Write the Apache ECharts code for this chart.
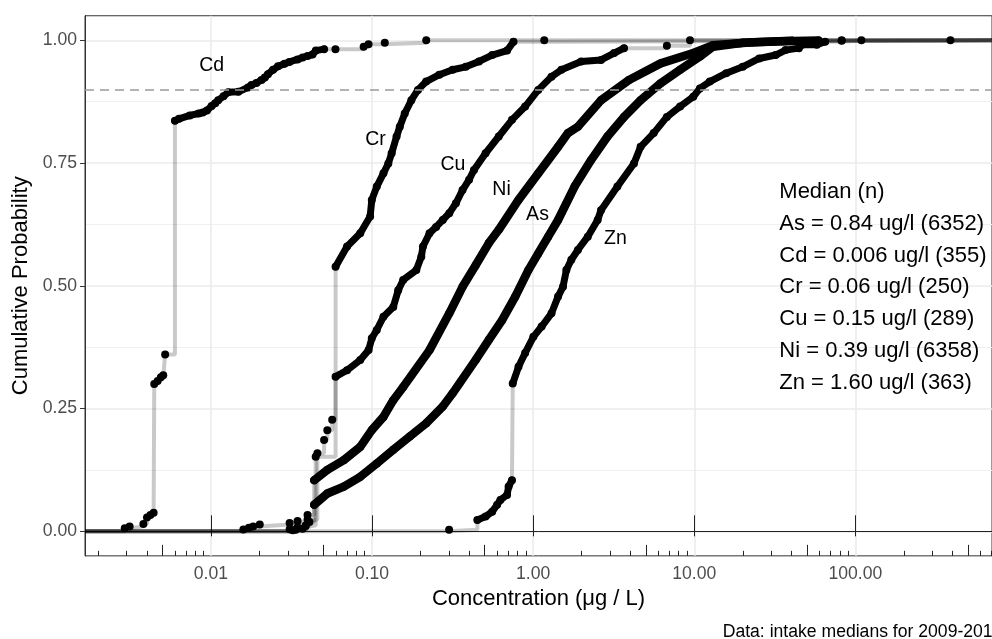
<!DOCTYPE html>
<html><head><meta charset="utf-8">
<script src="https://cdn.jsdelivr.net/npm/echarts@6/dist/echarts.min.js"></script>
<style>html,body{margin:0;padding:0;background:#fff}#c{width:992px;height:639px}</style>
</head><body><div id="c"></div>
<script>
// ---------------- data (concentration ug/L, cumulative probability) ----------------
const xTickLabels = [0.01, 0.1, 1, 10, 100];
const yTickLabels = [0, 0.25, 0.5, 0.75, 1];
const yMinorGrid = [0.125, 0.375, 0.625, 0.875];
const refLevel = 0.9;
const curveNames = ['Cd', 'Cr', 'Cu', 'Ni', 'As', 'Zn'];
const medianTitle = 'Median (n)';
const medianLines = ['As = 0.84 ug/l (6352)', 'Cd = 0.006 ug/l (355)', 'Cr = 0.06 ug/l (250)',
  'Cu = 0.15 ug/l (289)', 'Ni = 0.39 ug/l (6358)', 'Zn = 1.60 ug/l (363)'];
const caption = 'Data: intake medians for 2009-201';

const cdPts = [[0.00292,0.006],[0.00313,0.010],[0.00381,0.015],[0.00401,0.028],[0.00421,0.033],[0.00441,0.038],
  [0.00445,0.300],[0.00467,0.306],[0.00489,0.314],[0.00506,0.318],[0.0052,0.360],[0.00598,0.836],[0.00634,0.840],
  [0.0074,0.847],[0.0084,0.851],[0.0089,0.853],[0.00945,0.857],[0.0101,0.866],[0.01064,0.872],[0.0111,0.878],
  [0.01197,0.886],[0.0128,0.894],[0.0148,0.895],[0.0170,0.904],[0.01786,0.909],[0.01916,0.913],[0.0206,0.919],
  [0.0216,0.924],[0.0226,0.931],[0.0243,0.940],[0.0261,0.947],[0.0286,0.952],[0.0307,0.956],[0.0345,0.961],
  [0.0371,0.965],[0.0398,0.968],[0.0427,0.971],[0.0448,0.979],[0.0504,0.982],[0.0593,0.982],[0.0887,0.987],
  [0.0951,0.992],[0.120,0.995],[0.217,1.0]];
const crPts = [[0.0308,0.004],[0.0345,0.008],[0.0387,0.012],[0.0447,0.152],[0.0594,0.539],[0.0700,0.580],
  [0.0845,0.607],[0.0973,0.641],[0.0997,0.675],[0.107,0.702],[0.1177,0.729],[0.1262,0.749],[0.1324,0.770],
  [0.142,0.804],[0.1487,0.824],[0.1596,0.851],[0.1754,0.878],[0.1928,0.899],[0.2168,0.916],[0.2617,0.930],
  [0.3163,0.940],[0.3817,0.946],[0.4611,0.957],[0.557,0.970],[0.689,0.979],[0.755,0.997],[1.172,1.0]];
const cuPts = [[0.0159,0.0035],[0.0172,0.007],[0.0183,0.010],[0.0201,0.014],[0.0308,0.017],[0.0345,0.021],
  [0.0398,0.024],[0.0458,0.159],[0.0504,0.186],[0.0528,0.206],[0.0566,0.227],[0.0594,0.315],[0.0700,0.328],
  [0.0845,0.349],[0.0952,0.369],[0.0997,0.393],[0.107,0.410],[0.1177,0.437],[0.1355,0.457],[0.1454,0.491],
  [0.1561,0.512],[0.1884,0.532],[0.2022,0.559],[0.2071,0.580],[0.2274,0.607],[0.2499,0.620],[0.2748,0.634],
  [0.3017,0.648],[0.3316,0.668],[0.3646,0.695],[0.4002,0.716],[0.4295,0.736],[0.5067,0.770],[0.6115,0.804],
  [0.7389,0.838],[0.8919,0.865],[1.076,0.899],[1.300,0.926],[1.498,0.940],[1.988,0.957],[2.638,0.960],
  [3.183,0.974],[3.665,0.984],[6.761,0.989],[9.41,1.0]];
const niPts = [[0.0336,0.003],[0.0387,0.011],[0.0409,0.019],[0.04375,0.104],[0.0528,0.125],[0.0668,0.145],
  [0.0845,0.172],[0.0996,0.206],[0.1177,0.233],[0.1355,0.267],[0.1561,0.294],[0.2274,0.369],[0.3017,0.444],
  [0.3646,0.498],[0.4398,0.542],[0.5309,0.587],[0.6115,0.614],[0.8113,0.675],[1.076,0.729],[1.428,0.783],
  [1.645,0.811],[1.895,0.824],[2.638,0.878],[3.934,0.919],[6.185,0.953],[9.86,0.974],[13.08,0.990],
  [23.0,0.996],[40.5,0.999],[389,1.0]];
const asPts = [[0.0322,0.002],[0.0371,0.005],[0.0398,0.033],[0.04375,0.054],[0.0528,0.077],[0.0668,0.091],
  [0.0845,0.111],[0.1070,0.138],[0.1355,0.166],[0.1714,0.193],[0.2169,0.220],[0.2748,0.254],[0.3164,0.281],
  [0.4398,0.349],[0.5309,0.390],[0.6418,0.430],[0.7745,0.478],[0.9344,0.532],[1.076,0.566],[1.240,0.600],
  [1.428,0.634],[1.808,0.702],[2.289,0.756],[2.894,0.804],[3.665,0.844],[4.643,0.878],[6.158,0.912],
  [8.17,0.940],[10.84,0.967],[13.08,0.987],[20.0,0.995],[35.2,0.998],[59.1,0.9995],[82.2,1.0]];
const znPts = [[0.301,0.003],[0.4506,0.023],[0.5067,0.030],[0.5569,0.040],[0.5977,0.054],[0.6263,0.064],
  [0.6887,0.074],[0.7044,0.091],[0.7389,0.104],[0.7471,0.301],[0.8112,0.335],[0.8919,0.363],[1.003,0.396],
  [1.129,0.417],[1.300,0.444],[1.428,0.478],[1.532,0.498],[1.608,0.532],[1.726,0.553],[1.895,0.573],
  [2.183,0.600],[2.514,0.634],[2.638,0.654],[3.334,0.702],[4.223,0.749],[4.643,0.783],[5.601,0.811],
  [6.761,0.844],[8.17,0.865],[9.86,0.885],[10.84,0.902],[12.49,0.916],[15.79,0.933],[19.99,0.946],
  [25.31,0.963],[32.0,0.970],[36.87,0.980],[44.6,0.984],[46.7,0.991],[57.7,0.991],[64.9,0.997],
  [82.2,0.999],[109,1.0]];

// index ranges [start, end) of the densely packed runs of points in each series
const cdRuns = [[11, 39]];
const crRuns = [[4, 26]];
const cuRuns = [[11, 43]];
const niRuns = [[3, 29]];
const asRuns = [[3, 33]];
const znRuns = [[1, 9], [9, 41]];

// ---------------- chart ----------------
const FONT = '"Liberation Sans", Arial, sans-serif';
const X_MIN = Math.pow(10, -2.7815);
const X_MAX = Math.pow(10, 2.848);
const allSets = [
  {pts: cdPts, runs: cdRuns, w: 7}, {pts: crPts, runs: crRuns, w: 7}, {pts: cuPts, runs: cuRuns, w: 7},
  {pts: niPts, runs: niRuns, w: 8.5}, {pts: asPts, runs: asRuns, w: 8.5}, {pts: znPts, runs: znRuns, w: 7}];

// ECDF path: steps between separated values, direct joins inside densely packed runs
function ecdfPath(pts, runs) {
  const inRun = i => runs.some(r => i >= r[0] && i + 1 < r[1]);
  const out = [[X_MIN, 0], [pts[0][0], 0]];
  for (let i = 0; i < pts.length; i++) {
    out.push(pts[i]);
    if (i + 1 < pts.length && !inRun(i)) out.push([pts[i + 1][0], pts[i][1]]);
  }
  out.push([X_MAX, pts[pts.length - 1][1]]);
  return out;
}

const series = [];
allSets.forEach(s => {
  series.push({
    type: 'line', showSymbol: false, silent: true, z: 1,
    data: ecdfPath(s.pts, s.runs),
    lineStyle: {color: 'rgba(0,0,0,0.21)', width: 4}
  });
});
allSets.forEach(s => {
  s.runs.forEach(r => {
    series.push({
      type: 'line', showSymbol: false, silent: true, z: 2,
      data: s.pts.slice(r[0], r[1]),
      lineStyle: {color: '#000', width: s.w, cap: 'round', join: 'round', opacity: 1}
    });
  });
});
allSets.forEach((s, i) => {
  const ser = {
    type: 'scatter', symbol: 'circle', symbolSize: 8, silent: true, z: 3,
    itemStyle: {color: '#000', opacity: 1}, data: s.pts
  };
  if (i === 0) {
    ser.markLine = {
      silent: true, symbol: 'none', label: {show: false},
      lineStyle: {color: '#9a9a9a', type: [9, 6], width: 1.5},
      data: [{yAxis: refLevel}]
    };
  }
  series.push(ser);
});

const minorTicks = [], midTicks = [];
[0.001, 0.01, 0.1, 1, 10, 100].forEach(d => {
  for (let m = 2; m <= 9; m++) {
    const v = +(d * m).toPrecision(3);
    if (v > X_MIN && v < X_MAX) (m === 5 ? midTicks : minorTicks).push(v);
  }
});

function xAx(extra) {
  return Object.assign({
    type: 'log', logBase: 10, min: X_MIN, max: X_MAX, gridIndex: 0, position: 'bottom',
    axisLine: {show: false}, axisLabel: {show: false}, splitLine: {show: false}
  }, extra);
}

const labelPos = [[211.7, 66], [375.5, 139.5], [453, 164.5], [501.5, 189.5], [537.5, 214.5], [615.5, 239]];
const graphic = [];
curveNames.forEach((n, i) => graphic.push({
  type: 'text', x: labelPos[i][0], y: labelPos[i][1], z: 10,
  style: {text: n, fill: '#000', font: '19.5px ' + FONT, align: 'center', verticalAlign: 'middle'}
}));
[medianTitle].concat(medianLines).forEach((t, i) => graphic.push({
  type: 'text', x: 779.3, y: 192 + 31.8 * i, z: 10,
  style: {text: t, fill: '#000', font: '22px ' + FONT, align: 'left', verticalAlign: 'middle'}
}));
graphic.push({
  type: 'text', x: 722.7, y: 632.3, z: 10,
  style: {text: caption, fill: '#000', font: '17.6px ' + FONT, align: 'left', verticalAlign: 'middle'}
});

const option = {
  animation: false,
  backgroundColor: '#fff',
  textStyle: {fontFamily: FONT},
  grid: {left: 85, top: 15.75, width: 917, height: 540.1, show: true, borderColor: '#333', borderWidth: 1,
    backgroundColor: 'transparent', containLabel: false},
  xAxis: [
    xAx({
      axisLine: {show: true, lineStyle: {color: '#222', width: 1}},
      axisTick: {show: true, customValues: xTickLabels, length: 5, lineStyle: {color: '#222', width: 1}},
      axisLabel: {show: true, customValues: xTickLabels, formatter: v => (+v).toFixed(2),
        color: '#4d4d4d', fontSize: 17.6, margin: 9, fontFamily: FONT},
      splitLine: {show: true, lineStyle: {color: '#ebebeb', width: 1.6}},
      name: 'Concentration (\u03bcg / L)', nameLocation: 'middle', nameGap: 31,
      nameTextStyle: {color: '#000', fontSize: 22, fontFamily: FONT}
    }),
    xAx({axisTick: {show: true, inside: true, length: 16, customValues: xTickLabels, lineStyle: {color: '#222', width: 1}}}),
    xAx({axisTick: {show: true, inside: true, length: 11, customValues: midTicks, lineStyle: {color: '#222', width: 1}}}),
    xAx({axisTick: {show: true, inside: true, length: 5, customValues: minorTicks, lineStyle: {color: '#222', width: 1}}})
  ],
  yAxis: [
    {
      type: 'value', min: -0.05, max: 1.05, gridIndex: 0,
      axisLine: {show: true, lineStyle: {color: '#333', width: 1}},
      axisTick: {show: true, customValues: yTickLabels, length: 5, lineStyle: {color: '#333'}},
      axisLabel: {customValues: yTickLabels, formatter: v => (+v).toFixed(2), color: '#4d4d4d',
        fontSize: 17.6, margin: 8, fontFamily: FONT},
      splitLine: {show: true, lineStyle: {color: '#ebebeb', width: 1.6}},
      name: 'Cumulative Probability', nameLocation: 'middle', nameGap: 49,
      nameTextStyle: {color: '#000', fontSize: 22, fontFamily: FONT}
    },
    {
      type: 'value', min: -0.05, max: 1.05, gridIndex: 0, position: 'left',
      axisLine: {show: false}, axisLabel: {show: false},
      axisTick: {show: false, customValues: yMinorGrid},
      splitLine: {show: true, lineStyle: {color: '#f0f0f0', width: 1}}
    }
  ],
  series: series,
  graphic: graphic
};

const chart = echarts.init(document.getElementById('c'), null, {renderer: 'canvas'});
chart.setOption(option);
</script>
</body></html>
